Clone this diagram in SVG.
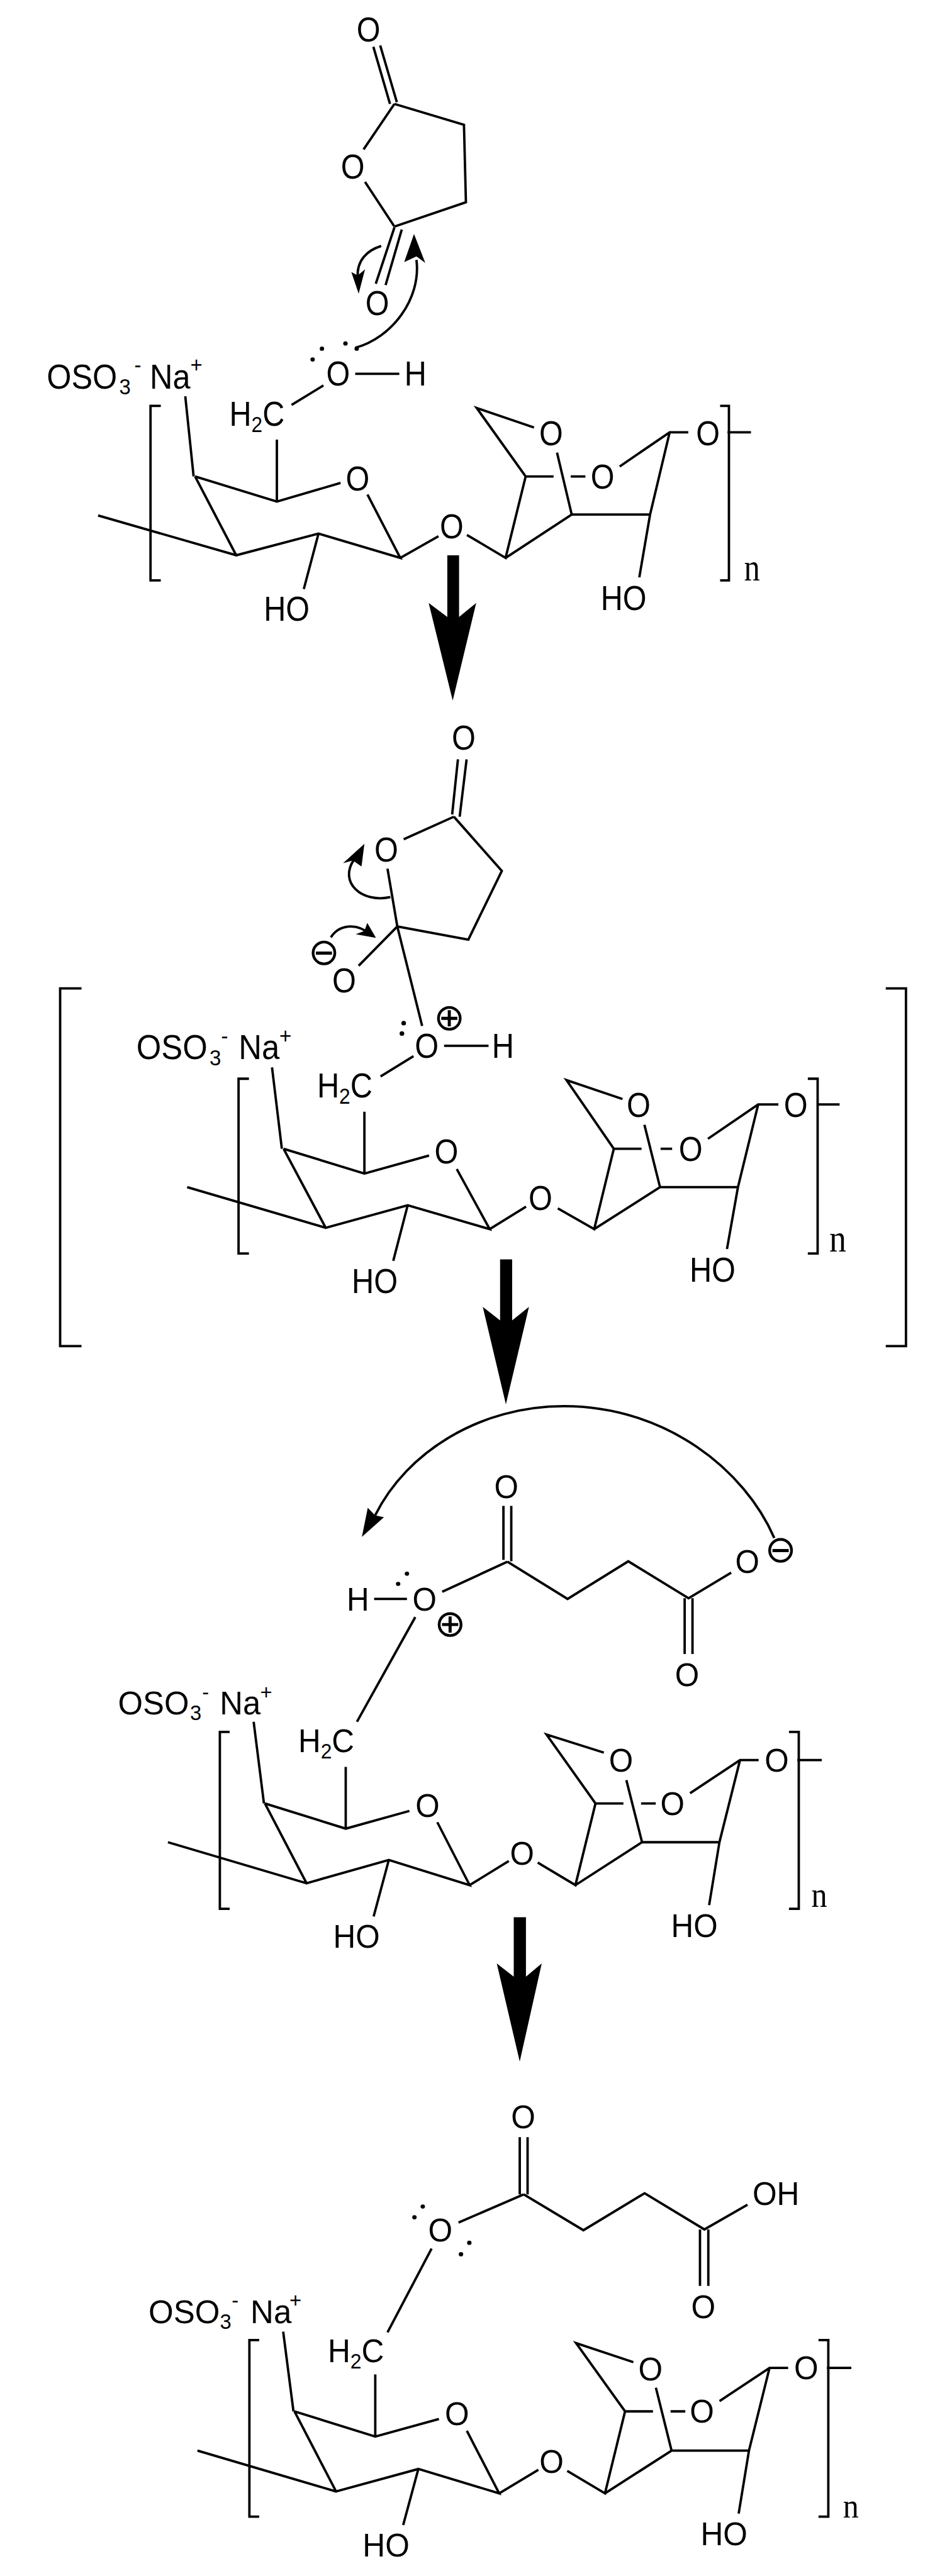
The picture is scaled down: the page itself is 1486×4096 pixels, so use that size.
<svg xmlns="http://www.w3.org/2000/svg" width="1486" height="4096" viewBox="0 0 1486 4096">
<style>
.b{fill:none;stroke:#000;stroke-width:3.8;vector-effect:non-scaling-stroke}
.h{fill:#000;stroke:none}
text{fill:#000;text-anchor:middle;font-family:"Liberation Sans",Arial,sans-serif}
.s{text-anchor:start}
text.n{font-family:"Liberation Serif","Times New Roman",serif}
text.c{font-family:"DejaVu Sans",sans-serif}
.f1{font-size:80px}.f2{font-size:77px}.f3{font-size:87px}.f4{font-size:84px}
.n1{font-size:88px}.n2{font-size:84px}.n3{font-size:95px}.n4{font-size:92px}
</style>
<rect width="1486" height="4096" fill="#fff"/>

<g id="step1" transform="matrix(.7784 0 0 .6887 46.94 0)">
<g id="anhydride"><path class="b" d="M702 108L736 240M716 105L750 236M745 240L887 288L891 467L745 523M745 240L682 345M685 420L745 523M745 525L707 655M760 530L727 658"/>
<text class="f1" transform="translate(692 96) scale(.78 1)">O</text>
<text class="f1" transform="translate(660 413) scale(.78 1)">O</text>
<text class="f1" transform="translate(710 728) scale(.78 1)">O</text></g>
<g id="sugar1"><path class="b" d="M665 863L755 863M535 935L600 890M505 1015L505 1158M318 915L335 1100M338 1100L505 1158L635 1115M690 1142L757 1288L590 1232L422 1282L338 1100M422 1282L140 1190M590 1232L560 1360M757 1288L835 1238M893 1235L972 1288L1013 1100M972 1288L1107 1188L1267 1188L1307 998M1267 1188L1245 1333M1013 1100L913 942L1030 987M1077 1045L1107 1188M1013 1100L1070 1100M1105 1100L1135 1100M1205 1077L1307 998L1345 998M1425 998L1473 998M268 937L247 937L247 1340L268 1340M1410 937L1428 937L1428 1340L1410 1340"/>
<g class="h"><ellipse cx="578" cy="830" rx="4.5" ry="5"/><ellipse cx="597" cy="805" rx="4.5" ry="5"/><ellipse cx="645" cy="793" rx="4.5" ry="5"/><ellipse cx="668" cy="805" rx="4.5" ry="5"/></g>
<text class="f1" transform="translate(630 890) scale(.78 1)">O</text>
<text class="f1" transform="translate(788 890) scale(.78 1)">H</text>
<text class="f1 s" transform="translate(35 897) scale(.81 1)">OSO<tspan x="183" y="14" font-size="52">3</tspan><tspan x="221" y="-37" font-size="52">- </tspan><tspan x="260" y="0">Na</tspan><tspan x="362" y="-37" font-size="52">+</tspan></text>
<text class="f1 s" transform="translate(408 983) scale(.78 1)">H<tspan y="14" font-size="52">2</tspan><tspan y="0">C</tspan></text>
<text class="f1" transform="translate(670 1133) scale(.78 1)">O</text>
<text class="f1" transform="translate(862 1243) scale(.78 1)">O</text>
<text class="f1" transform="translate(1065 1028) scale(.78 1)">O</text>
<text class="f1" transform="translate(1170 1128) scale(.78 1)">O</text>
<text class="f1" transform="translate(1385 1028) scale(.78 1)">O</text>
<text class="f1" transform="translate(525 1433) scale(.78 1)">HO</text>
<text class="f1" transform="translate(1213 1408) scale(.78 1)">HO</text>
<text class="n n1" transform="translate(1475 1340) scale(.74 1)">n</text></g>
<g id="curly1"><path class="b" d="M718 568C690 578 668 600 670 640"/><path class="h" d="M672 678L657 628L670 636L685 622Z"/>
<path class="b" d="M665 803C740 780 800 690 790 600"/><path class="h" d="M785 540L765 605L790 592L808 607Z"/></g>
</g>

<g id="step2" transform="matrix(.9176 0 0 .7183 46.94 1079.54)">
<g id="outer-bracket"><path class="b" d="M90 685L53 685L53 1477L90 1477M1483 685L1518 685L1518 1477L1483 1477"/></g>
<g id="intermediate"><path class="b" d="M742 178L732 300M757 178L745 305M735 305L648 355M735 305L818 425L760 577L637 548L620 420M637 548L570 635M637 548L680 768"/>
<text class="f2" transform="translate(752 157) scale(.69 1)">O</text>
<text class="f2" transform="translate(618 404) scale(.69 1)">O</text>
<text class="f2" transform="translate(545 694) scale(.69 1)">O</text>
<text class="c" font-size="83" transform="translate(510 633) scale(.78 1)">⊖</text>
<text class="c" font-size="83" transform="translate(727 778) scale(.78 1)">⊕</text></g>
<g id="sugar2"><path class="b" d="M718 812L795 812M608 880L665 835M580 958L580 1095M420 860L437 1040M440 1040L580 1095L692 1055M740 1085L797 1218L655 1165L513 1215L440 1040M513 1215L273 1125M655 1165L630 1288M797 1218L860 1168M915 1172L978 1218L1012 1040M978 1218L1092 1125L1227 1125L1262 942M1227 1125L1208 1262M1012 1040L930 888L1027 930M1065 987L1092 1125M1012 1040L1060 1040M1093 1040L1113 1040M1175 1018L1262 942L1297 942M1365 942L1403 942M380 885L362 885L362 1272L380 1272M1348 885L1365 885L1365 1272L1348 1272"/>
<g class="h"><ellipse cx="645" cy="785" rx="4" ry="5"/><ellipse cx="648" cy="762" rx="4" ry="5"/></g>
<text class="f2" transform="translate(688 839) scale(.69 1)">O</text>
<text class="f2" transform="translate(820 839) scale(.69 1)">H</text>
<text class="f2 s" transform="translate(185 842) scale(.72 1)">OSO<tspan x="176" y="14" font-size="50">3</tspan><tspan x="204" y="-35" font-size="50">- </tspan><tspan x="246" y="0">Na</tspan><tspan x="344" y="-35" font-size="50">+</tspan></text>
<text class="f2 s" transform="translate(498 927) scale(.69 1)">H<tspan y="14" font-size="50">2</tspan><tspan y="0">C</tspan></text>
<text class="f2" transform="translate(722 1072) scale(.69 1)">O</text>
<text class="f2" transform="translate(885 1175) scale(.69 1)">O</text>
<text class="f2" transform="translate(1055 970) scale(.69 1)">O</text>
<text class="f2" transform="translate(1145 1067) scale(.69 1)">O</text>
<text class="f2" transform="translate(1327 970) scale(.69 1)">O</text>
<text class="f2" transform="translate(598 1360) scale(.69 1)">HO</text>
<text class="f2" transform="translate(1183 1335) scale(.69 1)">HO</text>
<text class="n n2" transform="translate(1400 1268) scale(.7 1)">n</text></g>
<g id="curly2"><path class="b" d="M625 483C575 497 535 450 562 400"/><path class="h" d="M580 365L543 408L560 402L575 415Z"/>
<path class="b" d="M522 572C535 545 565 538 590 565"/><path class="h" d="M600 573L565 565L580 558L585 540Z"/></g>
</g>

<g id="step3" transform="matrix(.7784 0 0 .5987 140.81 2206)">
<g id="succinate"><path class="b" d="M847 315L847 458M863 315L863 462M855 463L722 543M583 562L650 562M855 463L978 562L1102 462L1225 560L1312 492M1217 560L1217 708M1233 560L1233 708M667 610L548 888"/>
<g class="h"><ellipse cx="650" cy="495" rx="4.5" ry="5.5"/><ellipse cx="632" cy="522" rx="4.5" ry="5.5"/></g>
<text class="f3" transform="translate(853 294) scale(.73 1)">O</text>
<text class="f3" transform="translate(686 593) scale(.73 1)">O</text>
<text class="f3" transform="translate(550 593) scale(.73 1)">H</text>
<text class="f3" transform="translate(1345 493) scale(.73 1)">O</text>
<text class="f3" transform="translate(1222 793) scale(.73 1)">O</text>
<text class="c" font-size="100" transform="translate(738 662) scale(.77 1)">⊕</text>
<text class="c" font-size="100" transform="translate(1413 464) scale(.77 1)">⊖</text></g>
<g id="sugar3"><path class="b" d="M525 1008L525 1172M337 888L358 1105M360 1105L525 1172L655 1125M712 1155L778 1322L613 1255L445 1317L360 1105M445 1317L162 1208M613 1255L582 1405M778 1322L858 1258M917 1262L994 1322L1035 1105M994 1322L1130 1208L1288 1208L1330 990M1288 1208L1267 1375M1035 1105L935 922L1052 970M1098 1043L1130 1208M1035 1105L1092 1105M1128 1105L1158 1105M1228 1078L1330 990L1368 990M1447 990L1497 990M288 915L268 915L268 1385L288 1385M1430 915L1450 915L1450 1385L1430 1385"/>
<text class="f3 s" transform="translate(60 868) scale(.75 1)">OSO<tspan x="196" y="16" font-size="56">3</tspan><tspan x="229" y="-40" font-size="56">- </tspan><tspan x="277" y="0">Na</tspan><tspan x="387" y="-40" font-size="56">+</tspan></text>
<text class="f3 s" transform="translate(428 969) scale(.73 1)">H<tspan y="16" font-size="56">2</tspan><tspan y="0">C</tspan></text>
<text class="f3" transform="translate(692 1141) scale(.73 1)">O</text>
<text class="f3" transform="translate(885 1268) scale(.73 1)">O</text>
<text class="f3" transform="translate(1087 1021) scale(.73 1)">O</text>
<text class="f3" transform="translate(1192 1136) scale(.73 1)">O</text>
<text class="f3" transform="translate(1405 1021) scale(.73 1)">O</text>
<text class="f3" transform="translate(547 1489) scale(.73 1)">HO</text>
<text class="f3" transform="translate(1237 1459) scale(.73 1)">HO</text>
<text class="n n3" transform="translate(1492 1380) scale(.68 1)">n</text></g>
<g id="curly3"><path class="b" d="M1400 400C1340 220 1180 50 970 50C800 50 650 170 585 340"/><path class="h" d="M558 397L570 320L585 340L603 345Z"/></g>
</g>

<g id="step4" transform="matrix(.7784 0 0 .6064 187.75 3144.75)">
<g id="ester"><path class="b" d="M820 418L820 568M836 418L836 568M828 568L695 642M828 568L950 662L1075 565L1197 660L1285 595M1188 660L1188 808M1205 660L1205 808M640 710L550 930"/>
<g class="h"><ellipse cx="622" cy="600" rx="4.5" ry="5.5"/><ellipse cx="605" cy="628" rx="4.5" ry="5.5"/><ellipse cx="717" cy="695" rx="4.5" ry="5.5"/><ellipse cx="700" cy="725" rx="4.5" ry="5.5"/></g>
<text class="f4" transform="translate(827 395) scale(.76 1)">O</text>
<text class="f4" transform="translate(658 692) scale(.76 1)">O</text>
<text class="f4" transform="translate(1343 595) scale(.76 1)">OH</text>
<text class="f4" transform="translate(1195 892) scale(.76 1)">O</text></g>
<g id="sugar4"><path class="b" d="M525 1040L525 1203M337 928L358 1137M360 1137L525 1203L655 1157M712 1188L778 1352L613 1288L445 1347L360 1137M445 1347L162 1240M613 1288L582 1435M778 1352L858 1290M917 1293L994 1352L1035 1137M994 1352L1130 1240L1288 1240L1330 1023M1288 1240L1267 1405M1035 1137L935 958L1052 1008M1098 1075L1130 1240M1035 1137L1092 1137M1128 1137L1158 1137M1228 1110L1330 1023L1368 1023M1447 1023L1497 1023M288 950L268 950L268 1413L288 1413M1430 950L1450 950L1450 1413L1430 1413"/>
<text class="f4 s" transform="translate(62 905) scale(.78 1)">OSO<tspan x="187" y="16" font-size="54">3</tspan><tspan x="218" y="-40" font-size="54">- </tspan><tspan x="267" y="0">Na</tspan><tspan x="369" y="-40" font-size="54">+</tspan></text>
<text class="f4 s" transform="translate(428 1008) scale(.76 1)">H<tspan y="16" font-size="54">2</tspan><tspan y="0">C</tspan></text>
<text class="f4" transform="translate(692 1173) scale(.76 1)">O</text>
<text class="f4" transform="translate(885 1298) scale(.76 1)">O</text>
<text class="f4" transform="translate(1087 1055) scale(.76 1)">O</text>
<text class="f4" transform="translate(1192 1167) scale(.76 1)">O</text>
<text class="f4" transform="translate(1405 1053) scale(.76 1)">O</text>
<text class="f4" transform="translate(547 1517) scale(.76 1)">HO</text>
<text class="f4" transform="translate(1237 1488) scale(.76 1)">HO</text>
<text class="n n4" transform="translate(1496 1415) scale(.7 1)">n</text></g>
</g>

<g id="connectors">
<path class="h" d="M710.9 882.9H729.6V981L756.8 958.7L719.5 1114L681.3 958.7L710.9 981Z"/>
<path class="h" d="M794.8 2002.5H814V2099.5L840.7 2078L804 2233L767.3 2078L794.8 2099.5Z"/>
<path class="h" d="M816.5 3048.4H835.9V3143L861 3122L826 3278L789.5 3122L816.5 3143Z"/>
</g>
</svg>
